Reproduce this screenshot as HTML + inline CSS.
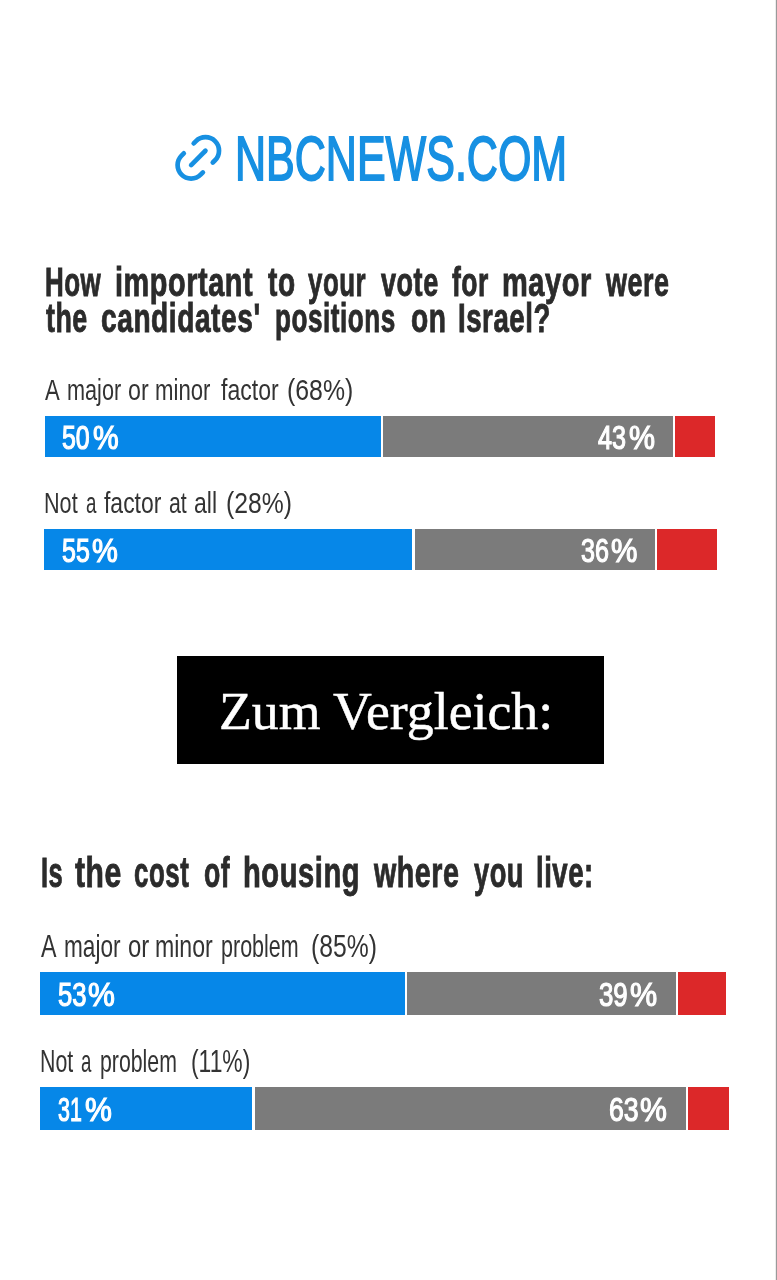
<!DOCTYPE html>
<html lang="en">
<head>
<meta charset="utf-8">
<title>NBCNEWS.COM exit poll</title>
<style>
html,body{margin:0;padding:0;background:#fff;}
body{width:777px;height:1280px;position:relative;overflow:hidden;font-family:"Liberation Sans",sans-serif;}
.t{position:absolute;display:block;white-space:nowrap;line-height:1;transform-origin:0 0;margin:0;padding:0;}
.sans{font-family:"Liberation Sans",sans-serif;}
.serif{font-family:"Liberation Serif",serif;}
.num,.line{position:absolute;left:0;top:0;width:0;height:0;margin:0;padding:0;font-size:0;font-weight:normal;}
.seg{position:absolute;}
.edge{position:absolute;top:0;height:1280px;}
.box{position:absolute;background:#000;}
#h1a>span{top:262px;font-size:40px;font-weight:700;color:#2b2b2b;-webkit-text-stroke:0.9px #2b2b2b;letter-spacing:0.8px;}
#h1b>span{top:297.95px;font-size:40px;font-weight:700;color:#2b2b2b;-webkit-text-stroke:0.9px #2b2b2b;letter-spacing:0.8px;}
#l1>span{top:375.03px;font-size:29.3px;font-weight:400;color:#333333;}
#l2>span{top:488.03px;font-size:29.3px;font-weight:400;color:#333333;}
#h2>span{top:850.96px;font-size:42.6px;font-weight:700;color:#2b2b2b;-webkit-text-stroke:0.9px #2b2b2b;letter-spacing:0.8px;}
#l3>span{top:930.96px;font-size:31.6px;font-weight:400;color:#333333;}
#l4>span{top:1045.96px;font-size:31.6px;font-weight:400;color:#333333;}
#n1a>span{top:421.93px;font-size:32.3px;font-weight:400;color:#ffffff;-webkit-text-stroke:1.2px #ffffff;}
#n1b>span{top:422.12px;font-size:32.3px;font-weight:400;color:#ffffff;-webkit-text-stroke:1.2px #ffffff;}
#n2a>span{top:534.97px;font-size:32.3px;font-weight:400;color:#ffffff;-webkit-text-stroke:1.2px #ffffff;}
#n2b>span{top:535.01px;font-size:32.3px;font-weight:400;color:#ffffff;-webkit-text-stroke:1.2px #ffffff;}
#n3a>span{top:978.02px;font-size:33.6px;font-weight:400;color:#ffffff;-webkit-text-stroke:1.2px #ffffff;}
#n3b>span{top:978.13px;font-size:33.6px;font-weight:400;color:#ffffff;-webkit-text-stroke:1.2px #ffffff;}
#n4a>span{top:1092.96px;font-size:33.6px;font-weight:400;color:#ffffff;-webkit-text-stroke:1.2px #ffffff;}
#n4b>span{top:1092.95px;font-size:33.6px;font-weight:400;color:#ffffff;-webkit-text-stroke:1.2px #ffffff;}
</style>
</head>
<body>
<div class="edge" style="left:775px;width:1px;background:#ececec"></div>
<div class="edge" style="left:776px;width:1px;background:#9a9a9a"></div>
<div class="seg" style="left:44.50px;top:416.00px;width:336.20px;height:41.40px;background:#0687e8"></div>
<div class="seg" style="left:383.20px;top:416.00px;width:289.40px;height:41.40px;background:#7b7b7b"></div>
<div class="seg" style="left:675.00px;top:416.00px;width:40.00px;height:41.40px;background:#dc2829"></div>
<div class="seg" style="left:44.40px;top:528.50px;width:368.00px;height:41.80px;background:#0687e8"></div>
<div class="seg" style="left:415.00px;top:528.50px;width:239.80px;height:41.80px;background:#7b7b7b"></div>
<div class="seg" style="left:657.40px;top:528.50px;width:60.00px;height:41.80px;background:#dc2829"></div>
<div class="seg" style="left:40.00px;top:972.20px;width:365.00px;height:42.80px;background:#0687e8"></div>
<div class="seg" style="left:407.20px;top:972.20px;width:268.50px;height:42.80px;background:#7b7b7b"></div>
<div class="seg" style="left:678.00px;top:972.20px;width:48.00px;height:42.80px;background:#dc2829"></div>
<div class="seg" style="left:40.00px;top:1087.20px;width:212.00px;height:42.60px;background:#0687e8"></div>
<div class="seg" style="left:254.60px;top:1087.20px;width:431.10px;height:42.60px;background:#7b7b7b"></div>
<div class="seg" style="left:688.00px;top:1087.20px;width:41.00px;height:42.60px;background:#dc2829"></div>
<div class="box" style="left:177.2px;top:656.1px;width:426.7px;height:107.9px"></div>
<svg id="icon" style="position:absolute;left:168px;top:127px" width="60" height="62" viewBox="0 0 60 62"><g transform="translate(30.30 30.90) rotate(-45)" fill="none" stroke="#1790e2" stroke-width="4.7" stroke-linecap="round"><path d="M7.0 -13.5 L10.2 -13.5 A13.5 13.5 0 0 1 10.2 13.5 L7.0 13.5"/><path d="M-7.0 -13.5 L-10.2 -13.5 A13.5 13.5 0 0 0 -10.2 13.5 L-7.0 13.5"/><path d="M-10.1 0 L10.1 0"/></g></svg>
<div class="t sans" id="brand" style="left:234.97px;top:128.10px;font-size:62.21px;font-weight:400;color:#1790e2;-webkit-text-stroke:1.8px #1790e2;transform:scaleX(0.6916)">NBCNEWS.COM</div>
<h2 class="line sans" id="h1a"><span class="t" id="h1aw0" style="left:44.97px;transform:scaleX(0.6482)">How</span> <span class="t" id="h1aw1" style="left:115.03px;transform:scaleX(0.7207)">important</span> <span class="t" id="h1aw2" style="left:268.01px;transform:scaleX(0.7014)">to</span> <span class="t" id="h1aw3" style="left:308.02px;transform:scaleX(0.6466)">your</span> <span class="t" id="h1aw4" style="left:381.17px;transform:scaleX(0.6751)">vote</span> <span class="t" id="h1aw5" style="left:451.95px;transform:scaleX(0.6607)">for</span> <span class="t" id="h1aw6" style="left:501.99px;transform:scaleX(0.7246)">mayor</span> <span class="t" id="h1aw7" style="left:605.98px;transform:scaleX(0.673)">were</span></h2>
<h2 class="line sans" id="h1b"><span class="t" id="h1bw0" style="left:45.96px;transform:scaleX(0.6696)">the</span> <span class="t" id="h1bw1" style="left:101.04px;transform:scaleX(0.7024)">candidates'</span> <span class="t" id="h1bw2" style="left:275.01px;transform:scaleX(0.6528)">positions</span> <span class="t" id="h1bw3" style="left:411.01px;transform:scaleX(0.7042)">on</span> <span class="t" id="h1bw4" style="left:458.01px;transform:scaleX(0.69)">Israel?</span></h2>
<p class="line sans" id="l1"><span class="t" id="l1w0" style="left:45px;transform:scaleX(0.754)">A</span> <span class="t" id="l1w1" style="left:67.01px;transform:scaleX(0.7397)">major</span> <span class="t" id="l1w2" style="left:128.01px;transform:scaleX(0.7926)">or</span> <span class="t" id="l1w3" style="left:155.04px;transform:scaleX(0.7564)">minor</span> <span class="t" id="l1w4" style="left:221.1px;transform:scaleX(0.7873)">factor</span> <span class="t" id="l1w5" style="left:286.98px;transform:scaleX(0.8473)">(68%)</span></p>
<p class="line sans" id="l2"><span class="t" id="l2w0" style="left:44.04px;transform:scaleX(0.7377)">Not</span> <span class="t" id="l2w1" style="left:85.96px;transform:scaleX(0.639)">a</span> <span class="t" id="l2w2" style="left:104.14px;transform:scaleX(0.7829)">factor</span> <span class="t" id="l2w3" style="left:169.02px;transform:scaleX(0.7268)">at</span> <span class="t" id="l2w4" style="left:193.97px;transform:scaleX(0.7859)">all</span> <span class="t" id="l2w5" style="left:225.96px;transform:scaleX(0.8442)">(28%)</span></p>
<div class="t serif" id="zum" style="left:219.00px;top:684.97px;font-size:52.71px;font-weight:400;color:#ffffff;-webkit-text-stroke:0.5px #ffffff;transform:scaleX(1.0208)">Zum Vergleich:</div>
<h2 class="line sans" id="h2"><span class="t" id="h2w0" style="left:40.66px;transform:scaleX(0.5982)">Is</span> <span class="t" id="h2w1" style="left:74.98px;transform:scaleX(0.7057)">the</span> <span class="t" id="h2w2" style="left:133.98px;transform:scaleX(0.6086)">cost</span> <span class="t" id="h2w3" style="left:204.01px;transform:scaleX(0.625)">of</span> <span class="t" id="h2w4" style="left:242.65px;transform:scaleX(0.684)">housing</span> <span class="t" id="h2w5" style="left:373.98px;transform:scaleX(0.672)">where</span> <span class="t" id="h2w6" style="left:473.73px;transform:scaleX(0.6407)">you</span> <span class="t" id="h2w7" style="left:536.05px;transform:scaleX(0.6468)">live:</span></h2>
<p class="line sans" id="l3"><span class="t" id="l3w0" style="left:40.95px;transform:scaleX(0.7359)">A</span> <span class="t" id="l3w1" style="left:63.97px;transform:scaleX(0.7158)">major</span> <span class="t" id="l3w2" style="left:128.03px;transform:scaleX(0.7558)">or</span> <span class="t" id="l3w3" style="left:155.01px;transform:scaleX(0.731)">minor</span> <span class="t" id="l3w4" style="left:220.96px;transform:scaleX(0.681)">problem</span> <span class="t" id="l3w5" style="left:310.76px;transform:scaleX(0.782)">(85%)</span></p>
<p class="line sans" id="l4"><span class="t" id="l4w0" style="left:40px;transform:scaleX(0.6752)">Not</span> <span class="t" id="l4w1" style="left:81.02px;transform:scaleX(0.5908)">a</span> <span class="t" id="l4w2" style="left:99.95px;transform:scaleX(0.6734)">problem</span> <span class="t" id="l4w3" style="left:191.04px;transform:scaleX(0.7243)">(11%)</span></p>
<div class="num sans" id="n1a"><span class="t" id="n1ad" style="left:62.21px;transform:scaleX(0.771)">50</span><span class="t" id="n1ap" style="left:92.88px;transform:scaleX(0.8925)">%</span></div>
<div class="num sans" id="n1b"><span class="t" id="n1bd" style="left:598.05px;transform:scaleX(0.7789)">43</span><span class="t" id="n1bp" style="left:628.86px;transform:scaleX(0.9052)">%</span></div>
<div class="num sans" id="n2a"><span class="t" id="n2ad" style="left:62px;transform:scaleX(0.7727)">55</span><span class="t" id="n2ap" style="left:91.98px;transform:scaleX(0.8992)">%</span></div>
<div class="num sans" id="n2b"><span class="t" id="n2bd" style="left:581.09px;transform:scaleX(0.7773)">36</span><span class="t" id="n2bp" style="left:610.95px;transform:scaleX(0.9203)">%</span></div>
<div class="num sans" id="n3a"><span class="t" id="n3ad" style="left:57.95px;transform:scaleX(0.7636)">53</span><span class="t" id="n3ap" style="left:87.98px;transform:scaleX(0.8998)">%</span></div>
<div class="num sans" id="n3b"><span class="t" id="n3bd" style="left:599.02px;transform:scaleX(0.7691)">39</span><span class="t" id="n3bp" style="left:630.03px;transform:scaleX(0.9099)">%</span></div>
<div class="num sans" id="n4a"><span class="t" id="n4ad" style="left:58.03px;transform:scaleX(0.6368)">31</span><span class="t" id="n4ap" style="left:84.97px;transform:scaleX(0.9002)">%</span></div>
<div class="num sans" id="n4b"><span class="t" id="n4bd" style="left:609.02px;transform:scaleX(0.7942)">63</span><span class="t" id="n4bp" style="left:640.01px;transform:scaleX(0.9)">%</span></div>
</body>
</html>
